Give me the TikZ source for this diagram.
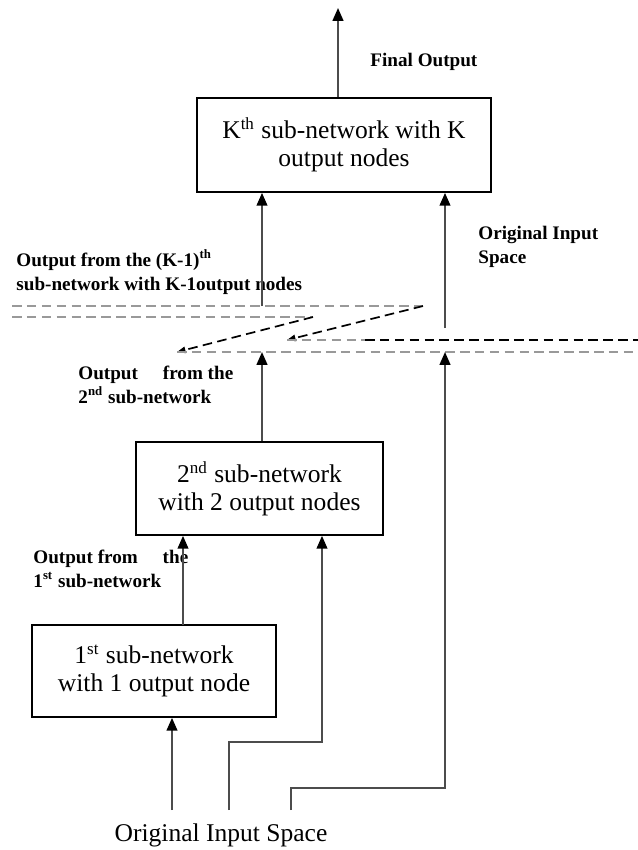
\documentclass[tikz,border=0pt]{standalone}
\usepackage{fontspec}
\setmainfont{Liberation Serif}
\usetikzlibrary{arrows.meta}
\begin{document}
\begin{tikzpicture}[x=0.47pt, y=-0.47pt,
    net/.style={rectangle, draw, line width=0.8pt, align=center, inner sep=0pt, font=\fontsize{12}{13.2}\selectfont},
    note/.style={anchor=west, align=left, inner sep=0pt, font=\fontsize{9}{11.5}\selectfont\bfseries},
    feed/.style={draw=black!70, line width=0.9pt},
    greydash/.style={draw=black!40, line width=0.8pt, dash pattern=on 4.5pt off 2.5pt},
    blackdash/.style={draw=black, line width=0.8pt, dash pattern=on 4.5pt off 2.5pt},
    >={Triangle[width=5pt,length=6pt,color=black]}]
    \useasboundingbox (0,0) rectangle (638,850);

    % sub-networks
    \node [net, minimum width=138.2pt, minimum height=44.2pt] (netK) at (344,145) {K\textsuperscript{th} sub-network with K\\output nodes};
    \node [net, minimum width=116.1pt, minimum height=43.7pt] (net2) at (259.5,488.5) {2\textsuperscript{nd} sub-network\\with 2 output nodes};
    \node [net, minimum width=114.7pt, minimum height=43.2pt] (net1) at (154,671) {1\textsuperscript{st} sub-network\\with 1 output node};
    \node [inner sep=0pt, font=\fontsize{12}{13.2}\selectfont] (input) at (221,835) {Original Input Space};

    % labels
    \begin{scope}[every node/.style={note}]
        \node (lfinal) at (370,62) {Final Output};
        \node (lkm1) at (16,272) {Output from the (K-1)\textsuperscript{th}\\sub-network with K-1output nodes};
        \node (lorig) at (478,247) {Original Input\\Space};
        \node (lout2) at (78,385) {Output\hspace{1.3em}from the\\2\textsuperscript{nd} sub-network};
        \node (lout1) at (33,569) {Output from\hspace{1.3em}the\\1\textsuperscript{st} sub-network};
    \end{scope}

    % end points
    \coordinate (fo) at (338,8);
    \coordinate (km1) at (262,306);
    \coordinate (oK) at (445,328);
    \coordinate (o2) at (262,352);
    \coordinate (o3) at (445,352);
    \coordinate (o1) at (183,625);
    \coordinate (b2) at (322,742);
    \coordinate (b3) at (445,788);
    \coordinate (in1) at (172,810);
    \coordinate (in2) at (229,810);
    \coordinate (in3) at (291,810);

    % dashed stack
    \coordinate (ua) at (423,306);
    \coordinate (ub) at (313,317);
    \coordinate (la) at (287,340);
    \coordinate (lb) at (177,352);
    \coordinate (lm) at (365,340);
    \draw [greydash] (12,306) -- (ua);
    \draw [greydash] (12,317) -- (ub);
    \draw [blackdash, -{Triangle[width=3pt,length=4pt]}] (ua) -- (la);
    \draw [blackdash, -{Triangle[width=3pt,length=4pt]}] (ub) -- (lb);
    \draw [greydash] (la) -- (lm);
    \draw [blackdash] (lm) -- (638,340);
    \draw [greydash] (lb) -- (638,352);

    % connectors
    \begin{scope}[->, feed]
        \draw (netK.north -| fo) -- (fo);
        \draw (km1) -- (km1 |- netK.south);
        \draw (oK) -- (oK |- netK.south);
        \draw (o2 |- net2.north) -- (o2);
        \draw (in3) |- (b3) -- (o3);
        \draw (in2) |- (b2) -- (b2 |- net2.south);
        \draw (o1) -- (o1 |- net2.south);
        \draw (in1) -- (in1 |- net1.south);
    \end{scope}
\end{tikzpicture}
\end{document}
